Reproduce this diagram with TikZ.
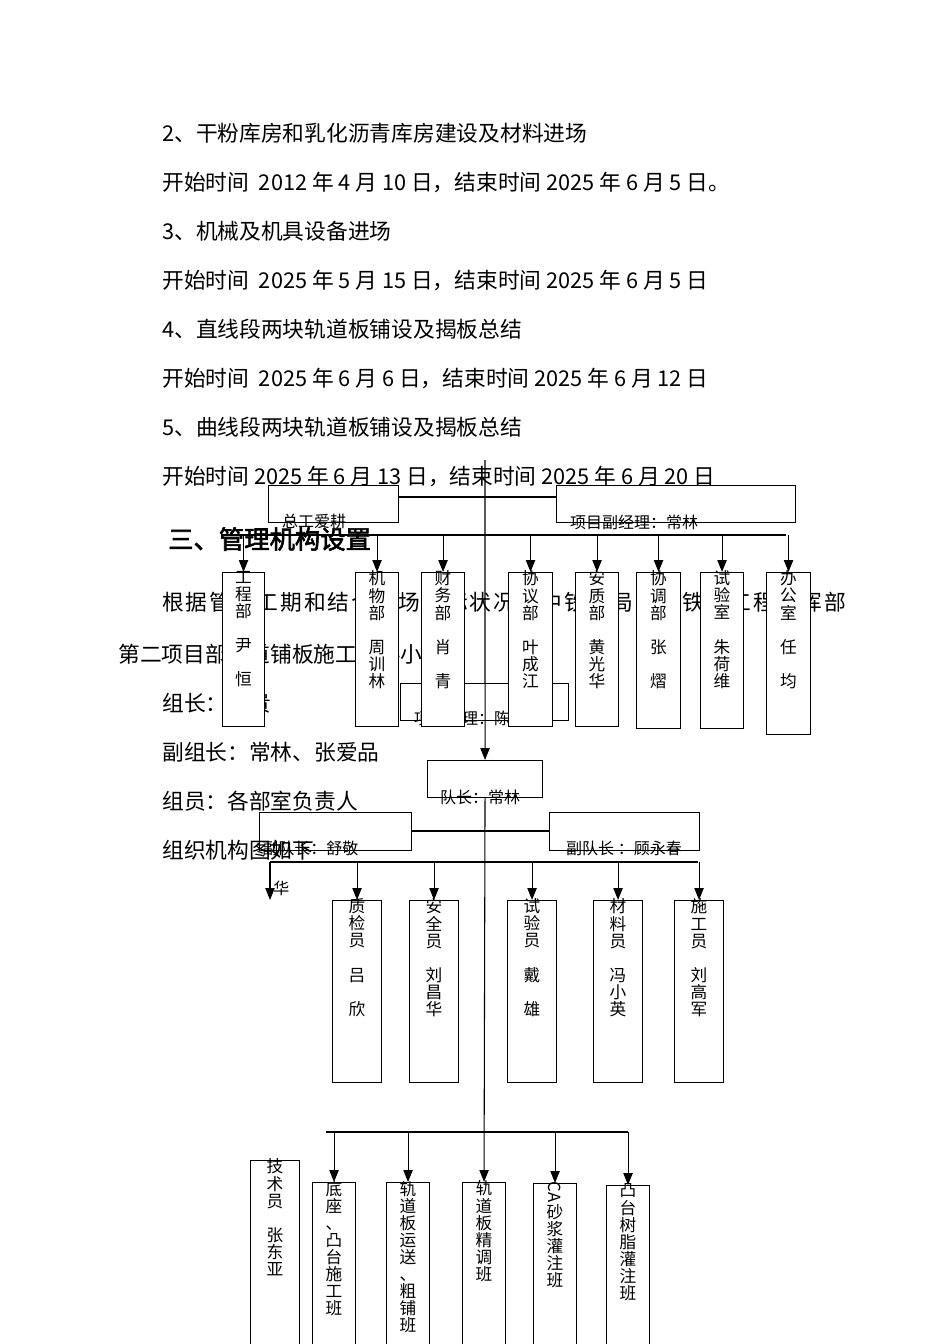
\documentclass[tikz,border=0pt]{standalone}
\usepackage{fontspec}
\setmainfont{Noto Sans CJK SC}
\newfontfamily\headfont[FakeBold=2.5]{Noto Sans CJK SC}
\usetikzlibrary{arrows.meta}
\tikzset{
  body/.style={anchor=west,inner sep=0,font=\fontsize{16.3}{17}\selectfont},
  bx/.style={draw,line width=0.8pt,fill=white,anchor=north west,inner sep=0},
  obx/.style={draw,line width=0.8pt,anchor=north west,inner sep=0},
  lbl/.style={inner sep=0,font=\fontsize{12}{13}\selectfont},
  vt/.style={anchor=north,inner sep=0,align=center,font=\fontsize{12.5}{12.8}\selectfont},
  ln/.style={line width=0.8pt},
  arr/.style={line width=0.8pt,-{Triangle[length=9pt,width=7pt]}}
}
\begin{document}
\begin{tikzpicture}[x=0.75pt,y=-0.75pt]
\useasboundingbox (0,0) rectangle (950,1344);
\clip (0,0) rectangle (950,1344);
\fill[white] (0,0) rectangle (950,1344);
% body text
\node[body] (t1) at (162,133) {2、干粉库房和乳化沥青库房建设及材料进场};
\node[body] (t2) at (162,182) {开始时间\ \ 2012 年 4 月 10 日，结束时间 2025 年 6 月 5 日。};
\node[body] (t3) at (162,231) {3、机械及机具设备进场};
\node[body] (t4) at (162,280) {开始时间\ \ 2025 年 5 月 15 日，结束时间 2025 年 6 月 5 日};
\node[body] (t5) at (162,329) {4、直线段两块轨道板铺设及揭板总结};
\node[body] (t6) at (162,378) {开始时间\ \ 2025 年 6 月 6 日，结束时间 2025 年 6 月 12 日};
\node[body] (t7) at (162,427) {5、曲线段两块轨道板铺设及揭板总结};
\node[body] (t8) at (162,476) {开始时间 2025 年 6 月 13 日，结束时间 2025 年 6 月 20 日};
\node[anchor=west,inner sep=0,font=\headfont\fontsize{19}{20}\selectfont] (h) at (168,539) {三、管理机构设置};
\node[body] (t9) at (162,602) {\makebox[513pt][s]{根\hfil 据\hfil 管\hfil 理\hfil 工\hfil 期\hfil 和\hfil 结\hfil 合\hfil 现\hfil 场\hfil 实\hfil 际\hfil 状\hfil 况\hfil ，\hfil 中\hfil 铁\hfil 二\hfil 局\hfil 成\hfil 都\hfil 铁\hfil 路\hfil 工\hfil 程\hfil 指\hfil 挥\hfil 部}};
\node[body] (t10) at (118,654) {第二项目部轨道铺板施工领导小组};
\node[body] (t11) at (162,703) {组长：王贵};
\node[body] (t12) at (162,752) {副组长：常林、张爱品};
\node[body] (t13) at (162,801) {组员：各部室负责人};
\node[body] (t14) at (162,850) {组织机构图如下};
% top level
\node[obx,minimum width=130*0.75pt,minimum height=37*0.75pt] (zg) at (268,485) {};
\node[obx,minimum width=239*0.75pt,minimum height=37*0.75pt] (fj) at (556,485) {};
\draw[ln] (zg.east |- 0,497) -- (fj.west |- 0,497);
\node[lbl] (zgl) at (314,521) {总工爱耕};
\node[lbl] (fjl) at (634,522) {项目副经理：常林};
\coordinate (c0) at (485,460);
\draw[ln] (240,535) -- (786,535);
% project manager box (unfilled)
\node[obx,minimum width=168*0.75pt,minimum height=37*0.75pt] (pm) at (400,683) {};
\node[lbl] (pml) at (470,718) {项目经理：陈平};
% team leader
\node[bx,minimum width=115*0.75pt,minimum height=37*0.75pt] (dz) at (427,760) {};
\draw[arr] (c0) -- (dz.north);
\node[lbl] (dzl) at (480,797) {队长：常林};
% dept boxes
\foreach \n/\x/\w/\h/\t in {
 d1/222/42/154/{工\\程\\部\\ \\尹\\ \\恒},
 d2/355/43/154/{机\\物\\部\\ \\周\\训\\林},
 d3/421/43/154/{财\\务\\部\\ \\肖\\ \\青},
 d4/508/44/154/{协\\议\\部\\ \\叶\\成\\江},
 d5/575/43/154/{安\\质\\部\\ \\黄\\光\\华},
 d6/636/44/156/{协\\调\\部\\ \\张\\ \\熠},
 d7/700/43/156/{试\\验\\室\\ \\朱\\荷\\维},
 d8/766/44/162/{办\\公\\室\\ \\任\\ \\均}}{
 \node[bx,minimum width=\w*0.75pt,minimum height=\h*0.75pt] (\n) at (\x,572) {};
 \draw[arr] (\n.north |- 0,535) -- (\n.north);
 \node[vt] at ([yshift=1pt]\n.north) {\t};
}
% deputy team leaders
\node[obx,minimum width=152*0.75pt,minimum height=38*0.75pt] (fd1) at (259,812) {};
\node[obx,minimum width=150*0.75pt,minimum height=38*0.75pt] (fd2) at (549,812) {};
\draw[ln] (fd1.east |- 0,831) -- (fd2.west |- 0,831);
\node[lbl,anchor=west] (fd1l) at (262,848) {副队长：舒敬};
\node[lbl,anchor=west] (fd1l2) at (273,888) {华};
\node[lbl] (fd2l) at (624,848) {副队长\ ：顾永春};
\draw[ln] (270,862) -- (698,862);
\coordinate (e0) at (270,900);
\draw[arr] (270,862) -- (e0);
\foreach \n/\x/\t in {
 m1/332/{质\\检\\员\\ \\吕\\ \\欣},
 m2/409/{安\\全\\员\\ \\刘\\昌\\华},
 m3/507/{试\\验\\员\\ \\戴\\ \\雄},
 m4/593/{材\\料\\员\\ \\冯\\小\\英},
 m5/674/{施\\工\\员\\ \\刘\\高\\军}}{
 \node[bx,minimum width=49*0.75pt,minimum height=182*0.75pt] (\n) at (\x,900) {};
 \draw[arr] (\n.north |- 0,862) -- (\n.north);
 \node[vt] at ([yshift=1pt]\n.north) {\t};
}
% crews
\draw[ln] (326,1132) -- (628,1132);
\node[bx,minimum width=49*0.75pt,minimum height=200*0.75pt] (js) at (250,1160) {};
\node[vt] at ([yshift=1pt]js.north) {技\\术\\员\\ \\张\\东\\亚};
\foreach \n/\x/\y/\t in {
 b1/312/1182/{底\\座\\、\\凸\\台\\施\\工\\班},
 b2/386/1182/{轨\\道\\板\\运\\送\\、\\粗\\铺\\班},
 b3/462/1182/{轨\\道\\板\\精\\调\\班},
 b4/533/1183/{\rotatebox{-90}{CA}\\砂\\浆\\灌\\注\\班},
 b5/606/1185/{凸\\台\\树\\脂\\灌\\注\\班}}{
 \node[bx,minimum width=43*0.75pt,minimum height=200*0.75pt] (\n) at (\x,\y) {};
 \node[vt] at ([yshift=1pt]\n.north) {\t};
}
\draw[arr] (b1.north |- 0,1132) -- (b1.north);
\draw[arr] (b2.north |- 0,1132) -- (b2.north);
\draw[arr] (b4.north |- 0,1132) -- (b4.north);
\draw[arr] (b5.north |- 0,1132) -- (b5.north);
\draw[arr] (dz.south) -- (b3.north);
\end{tikzpicture}
\end{document}
